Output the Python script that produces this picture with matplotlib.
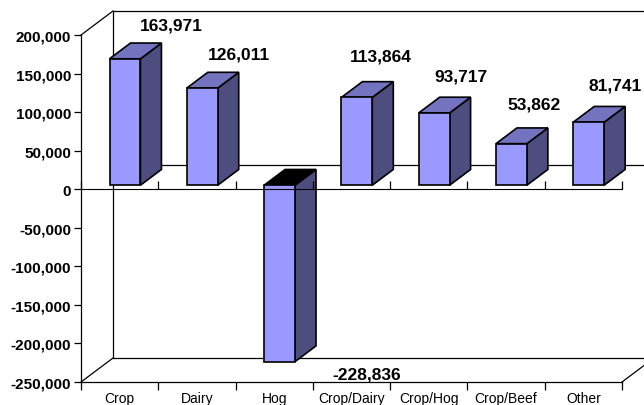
import matplotlib.pyplot as plt
from matplotlib.patches import Polygon

categories = ["Crop", "Dairy", "Hog", "Crop/Dairy", "Crop/Hog", "Crop/Beef", "Other"]
values = [163971, 126011, -228836, 113864, 93717, 53862, 81741]
yticks = [200000, 150000, 100000, 50000, 0, -50000, -100000, -150000, -200000, -250000]

# label nudges in pixels (Excel puts 3D labels a bit all over the place)
label_dx = [46, 37, 87, 24, 27, 23, 26]
label_dy = [34, 34, -12, 41, 37, 40, 37]

front = "#9999ff"
top = "#7373bf"
side = "#4d4d80"

plt.rcParams["font.family"] = ["Liberation Sans", "DejaVu Sans"]

fig = plt.figure(figsize=(6.44, 4.06), dpi=100)
ax = fig.add_axes([81 / 644, 23 / 406, 541 / 644, 347 / 406])
ymin, ymax = -250000, 200000
ax.set_xlim(0, 7)
ax.set_ylim(ymin, ymax)

# depth of the 3D box in data units
px_x = 7 / 541
px_y = (ymax - ymin) / 347
DX = 32 * px_x
DY = 24 * px_y

lw = 0.9
# back wall + floor edges
ax.plot([DX, DX], [ymin + DY, ymax + DY], color="black", lw=lw, clip_on=False, zorder=1)
ax.plot([DX, 7 + DX], [ymax + DY, ymax + DY], color="black", lw=lw, clip_on=False, zorder=1)
ax.plot([DX, 7 + DX], [ymin + DY, ymin + DY], color="black", lw=lw, clip_on=False, zorder=1)
ax.plot([DX, 7 + DX], [DY, DY], color="black", lw=lw, clip_on=False, zorder=1)
ax.plot([0, DX], [ymax, ymax + DY], color="black", lw=lw, clip_on=False, zorder=1)
ax.plot([0, DX], [ymin, ymin + DY], color="black", lw=lw, clip_on=False, zorder=1)
ax.plot([7, 7 + DX], [ymin, ymin + DY], color="black", lw=lw, clip_on=False, zorder=1)

# bars
w = 0.4
f0 = 0.167
d = 0.656
for i, v in enumerate(values):
    x0 = i + 0.5 - w / 2 + f0 * DX
    base = f0 * DY
    vt = v + base
    hi = max(base, vt)
    lo = min(base, vt)
    ddx, ddy = d * DX, d * DY
    ax.add_patch(Polygon([(x0 + w, lo), (x0 + w, hi), (x0 + w + ddx, hi + ddy), (x0 + w + ddx, lo + ddy)],
                         closed=True, facecolor=side, edgecolor="black", lw=1.2, zorder=3 + i, clip_on=False))
    ax.add_patch(Polygon([(x0, hi), (x0 + w, hi), (x0 + w + ddx, hi + ddy), (x0 + ddx, hi + ddy)],
                         closed=True, facecolor=top if v >= 0 else "black", edgecolor="black", lw=1.2,
                         zorder=3 + i, clip_on=False))
    ax.add_patch(Polygon([(x0, lo), (x0 + w, lo), (x0 + w, hi), (x0, hi)],
                         closed=True, facecolor=front, edgecolor="black", lw=1.2, zorder=3 + i, clip_on=False))
    ax.annotate(f"{v:,}", xy=(x0 + w / 2, vt), xytext=(label_dx[i], label_dy[i]),
                textcoords="offset pixels", ha="center", va="center",
                fontsize=12.5, fontweight="bold", zorder=20, annotation_clip=False)

# axes styling
for s in ["top", "right"]:
    ax.spines[s].set_visible(False)
ax.spines["left"].set_linewidth(lw)
ax.spines["bottom"].set_linewidth(lw)
ax.set_yticks(yticks)
ax.set_yticklabels([f"{t:,}" for t in yticks], fontsize=11, fontweight="bold")
ax.tick_params(axis="y", direction="out", length=5, width=lw, pad=2)

ax.set_xticks(range(8))
ax.set_xticklabels([""] * 8)
ax.tick_params(axis="x", which="major", direction="out", length=6, width=lw)
ax.set_xticks([i + 0.5 for i in range(7)], minor=True)
ax.set_xticklabels(categories, minor=True, fontsize=10)
ax.tick_params(axis="x", which="minor", length=0, pad=6.5)

# category axis at zero
sec = ax.secondary_xaxis((0 - ymin) / (ymax - ymin))
sec.set_xticks(range(8))
sec.set_xticklabels([""] * 8)
sec.tick_params(direction="out", length=6, width=lw)
sec.spines["bottom"].set_linewidth(lw)
sec.set_zorder(30)

fig.savefig("out.png", dpi=100)
